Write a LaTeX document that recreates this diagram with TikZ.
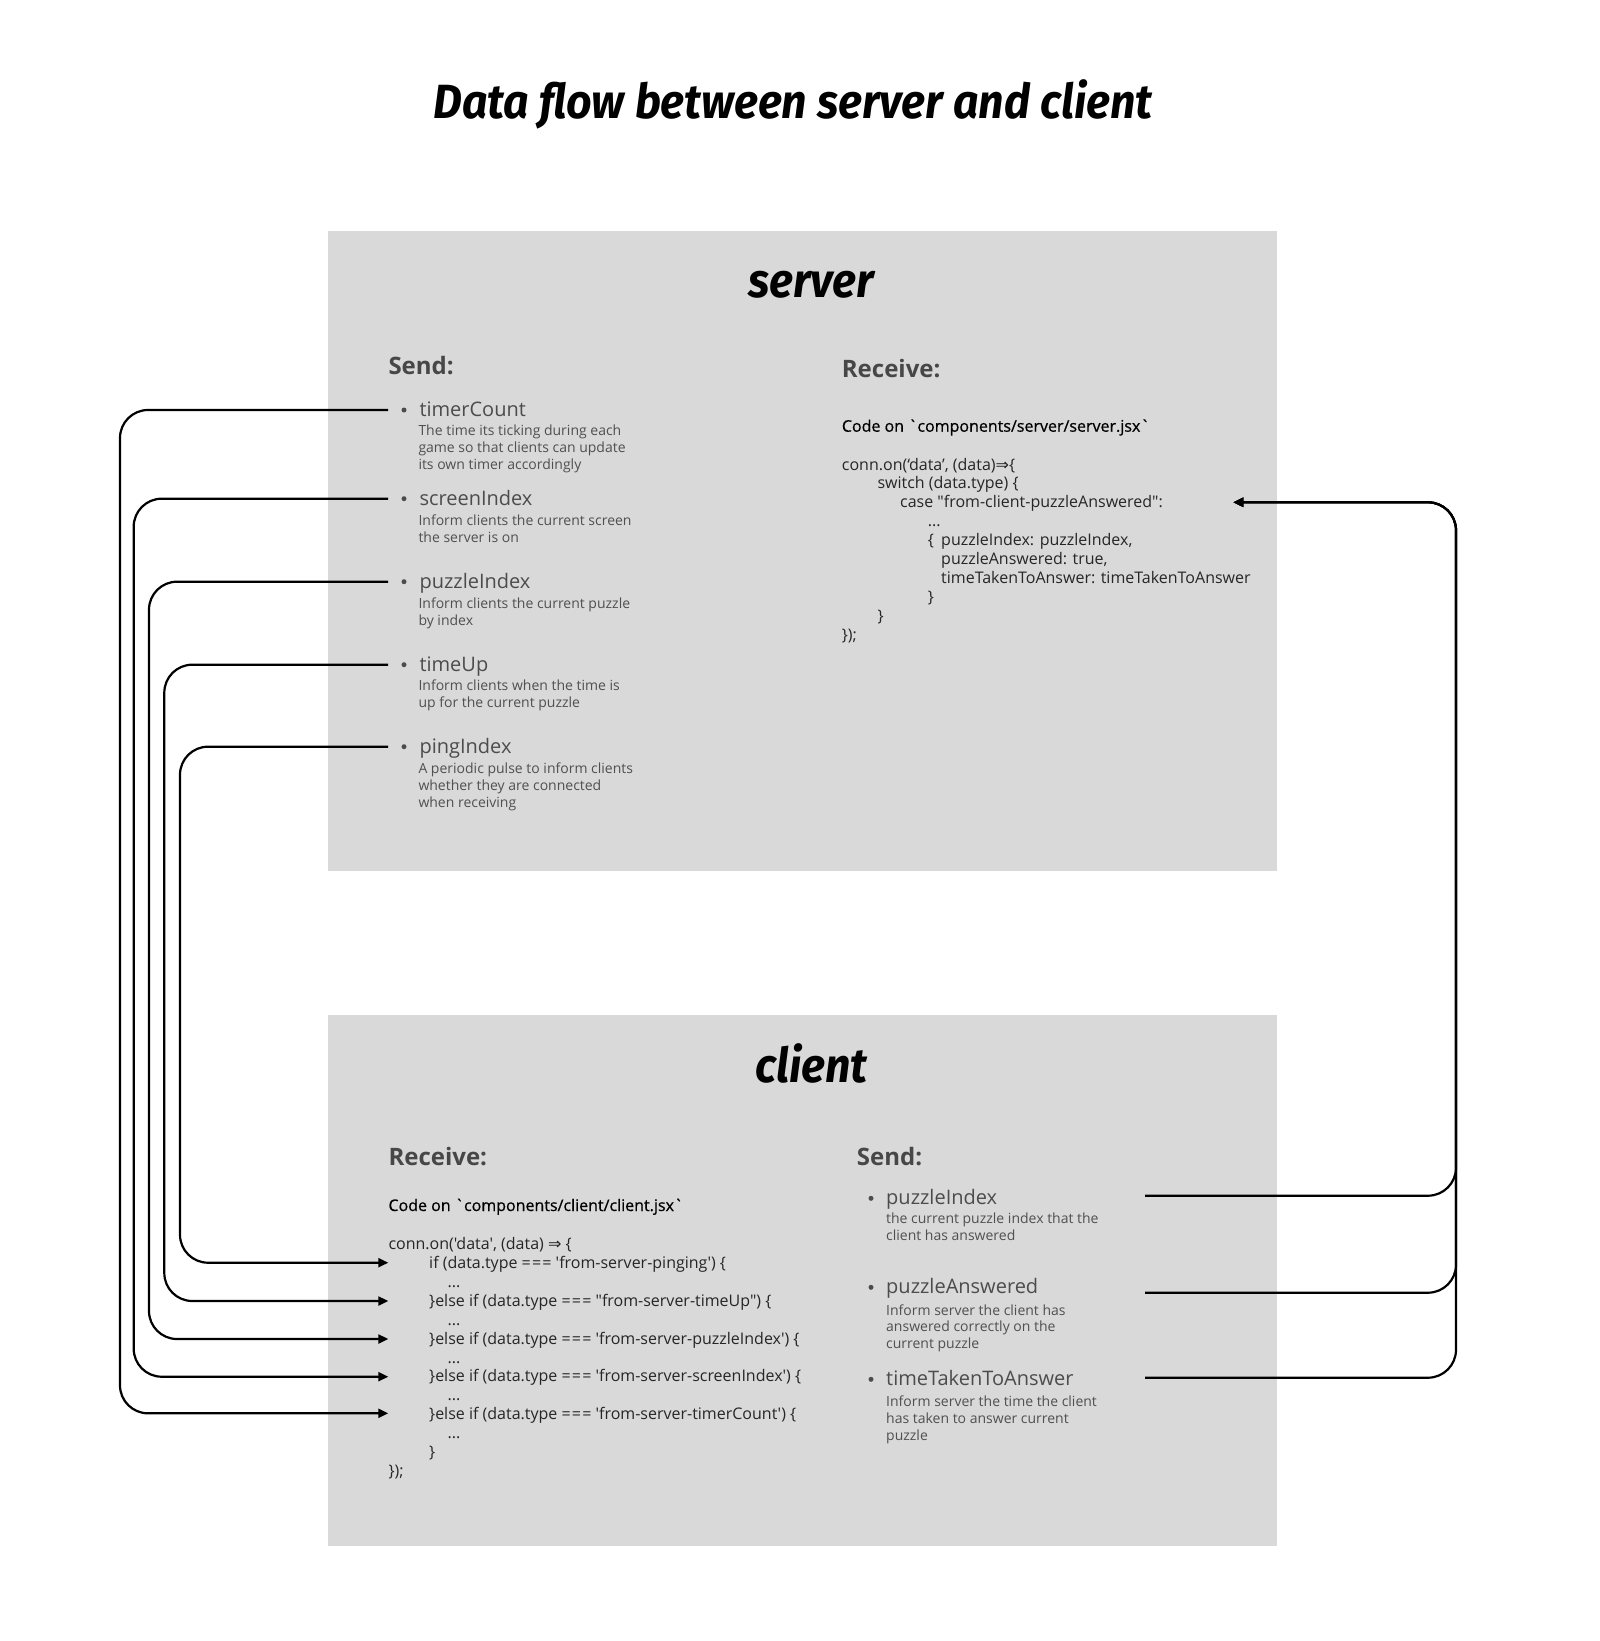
\documentclass[tikz,border=0pt]{standalone}
\usepackage{fontspec}
\usepackage{graphicx}
\usetikzlibrary{arrows.meta}
\newfontfamily\bodyfont{Open Sans}
\newfontfamily\medfont{Open Sans}[FakeBold=0.6]
\newfontfamily\headfont{Fira Sans}
\newfontfamily\symfont{DejaVu Sans}
\definecolor{boxgray}{HTML}{D9D9D9}
\definecolor{headgray}{HTML}{474747}
\definecolor{itemgray}{HTML}{4C4C4C}
\definecolor{descgray}{HTML}{505050}
\definecolor{codegray}{HTML}{262626}
\newcommand\eqq{={\kern1.2pt}={\kern1.2pt}=}
\begin{document}
\begin{tikzpicture}[x=1pt,y=-1pt,
  txt/.style={inner sep=0pt, anchor=base west},
  panel/.style={fill=boxgray, inner sep=0pt, anchor=north west},
  sec/.style={txt, font=\bodyfont\fontsize{24}{29}\selectfont\bfseries, text=headgray},
  item/.style={txt, font=\bodyfont\fontsize{20}{24}\selectfont, text=itemgray},
  desc/.style={txt, font=\bodyfont\fontsize{14}{17}\selectfont, text=descgray},
  cdesc/.style={txt, font=\bodyfont\fontsize{14}{16.8}\selectfont, text=descgray},
  code/.style={txt, font=\bodyfont\fontsize{16}{18.95}\selectfont, text=codegray},
  codehead/.style={txt, font=\medfont\fontsize{16}{19}\selectfont, text=black},
  bul/.style={circle, fill=itemgray, inner sep=0pt, minimum size=5pt},
  big/.style={inner sep=0pt, anchor=base, font=\headfont\fontsize{48}{56}\selectfont\bfseries\itshape},
  conn/.style={line width=2.2pt, rounded corners=28pt},
  arr/.style={conn, -{Triangle[length=10pt,width=9pt]}}
]
\useasboundingbox (0,0) rectangle (1600,1641);

% title
\node[big] (title) at (793,118) {\scalebox{0.93}[1]{Data flow between server and client}};

% panels
\node[panel, minimum width=949.1pt, minimum height=639.6pt] (server) at (327.5,231) {};
\node[panel, minimum width=949.1pt, minimum height=530.6pt] (client) at (327.5,1015) {};

\node[big] (serverhead) at (811.3,297.7) {\scalebox{0.93}[1]{server}};
\node[big] (clienthead) at (811.3,1082.3) {\scalebox{0.93}[1]{client}};

% ---------------- server send ----------------
\node[sec] (ssend) at (388.3,374) {Send:};

\node[bul] (sb1) at (404,410) {};
\node[item] (si1) at (419.3,416.5) {timerCount};
\node[desc] (sd1) at (418.3,435) {\vtop{\hbox{The time its ticking during each}\hbox{game so that clients can update}\hbox{its own timer accordingly}}};

\node[bul] (sb2) at (404,498.7) {};
\node[item] (si2) at (419.3,505.5) {screenIndex};
\node[desc] (sd2) at (418.3,525) {\vtop{\hbox{Inform clients the current screen}\hbox{the server is on}}};

\node[bul] (sb3) at (404,581.7) {};
\node[item] (si3) at (419.3,588.3) {puzzleIndex};
\node[desc] (sd3) at (418.3,608.3) {\vtop{\hbox{Inform clients the current puzzle}\hbox{by index}}};

\node[bul] (sb4) at (404,664.7) {};
\node[item] (si4) at (419.3,671.5) {timeUp};
\node[desc] (sd4) at (418.3,690) {\vtop{\hbox{Inform clients when the time is}\hbox{up for the current puzzle}}};

\node[bul] (sb5) at (404,746.7) {};
\node[item] (si5) at (419.3,753.3) {pingIndex};
\node[desc] (sd5) at (418.3,773.3) {\vtop{\hbox{A periodic pulse to inform clients}\hbox{whether they are connected}\hbox{when receiving}}};

% ---------------- server receive ----------------
\node[sec] (srecv) at (841.7,377.3) {Receive:};
\node[codehead] (scodehead) at (841.7,431.7) {Code on `components/server/server.jsx`};
\node[code] (scode) at (841.7,470) {\vtop{%
\hbox{conn.on(‘data’, (data){\symfont ⇒}\{}%
\hbox{\hskip35.6pt switch (data.type) \{}%
\hbox{\hskip58.3pt case "from-client-puzzleAnswered":}%
\hbox{\hskip86pt ...}%
\hbox{\hskip86pt \rlap{\{}\hskip13.3pt puzzleIndex: puzzleIndex,}%
\hbox{\hskip99.3pt puzzleAnswered: true,}%
\hbox{\hskip99.3pt timeTakenToAnswer: timeTakenToAnswer}%
\hbox{\hskip86pt \}}%
\hbox{\hskip35.6pt \}}%
\hbox{\});}}};

% ---------------- client receive ----------------
\node[sec] (crecv) at (388.3,1165) {Receive:};
\node[codehead] (ccodehead) at (388.3,1211) {Code on `components/client/client.jsx`};
\node[code] (ccode) at (388.3,1249.3) {\vtop{%
\hbox{conn.on('data', (data) {\symfont ⇒} \{}%
\hbox{\hskip40.7pt if (data.type \eqq{} 'from-server-pinging') \{}%
\hbox{\hskip59pt ...}%
\hbox{\hskip40.7pt \}else if (data.type \eqq{} "from-server-timeUp") \{}%
\hbox{\hskip59pt ...}%
\hbox{\hskip40.7pt \}else if (data.type \eqq{} 'from-server-puzzleIndex') \{}%
\hbox{\hskip59pt ...}%
\hbox{\hskip40.7pt \}else if (data.type \eqq{} 'from-server-screenIndex') \{}%
\hbox{\hskip59pt ...}%
\hbox{\hskip40.7pt \}else if (data.type \eqq{} 'from-server-timerCount') \{}%
\hbox{\hskip59pt ...}%
\hbox{\hskip40.7pt \}}%
\hbox{\});}}};

% ---------------- client send ----------------
\node[sec] (csend) at (856.7,1165) {Send:};

\node[bul] (cb1) at (871,1198.3) {};
\node[item] (ci1) at (886,1204) {puzzleIndex};
\node[cdesc] (cd1) at (886,1223.3) {\vtop{\hbox{the current puzzle index that the}\hbox{client has answered}}};

\node[bul] (cb2) at (871,1287.3) {};
\node[item] (ci2) at (886,1293.3) {puzzleAnswered};
\node[cdesc] (cd2) at (886,1315) {\vtop{\hbox{Inform server the client has}\hbox{answered correctly on the}\hbox{current puzzle}}};

\node[bul] (cb3) at (871,1379.3) {};
\node[item] (ci3) at (886,1385) {timeTakenToAnswer};
\node[cdesc] (cd3) at (886,1406.7) {\vtop{\hbox{Inform server the time the client}\hbox{has taken to answer current}\hbox{puzzle}}};

% ---------------- connector end points ----------------
\coordinate (ls1) at (388,410);
\coordinate (ls2) at (388,498.7);
\coordinate (ls3) at (388,581.7);
\coordinate (ls4) at (388,664.7);
\coordinate (ls5) at (388,746.7);
\coordinate (lv1) at (120,900);
\coordinate (lv2) at (133.7,900);
\coordinate (lv3) at (149,900);
\coordinate (lv4) at (164.3,900);
\coordinate (lv5) at (180,900);
\coordinate (le1) at (388.3,1413.3);
\coordinate (le2) at (388.3,1376.7);
\coordinate (le3) at (388.3,1339);
\coordinate (le4) at (388.3,1301);
\coordinate (le5) at (388.3,1262.7);

\coordinate (rs1) at (1145,1195.7);
\coordinate (rs2) at (1145,1292.7);
\coordinate (rs3) at (1145,1377.7);
\coordinate (rv) at (1456,900);
\coordinate (rt) at (1233.3,502.3);

% ---------------- connectors ----------------
\draw[arr] (ls1) -| (lv1) |- (le1);
\draw[arr] (ls2) -| (lv2) |- (le2);
\draw[arr] (ls3) -| (lv3) |- (le3);
\draw[arr] (ls4) -| (lv4) |- (le4);
\draw[arr] (ls5) -| (lv5) |- (le5);

\draw[arr] (rs1) -| (rv) |- (rt);
\draw[arr] (rs2) -| (rv) |- (rt);
\draw[arr] (rs3) -| (rv) |- (rt);
\end{tikzpicture}
\end{document}
